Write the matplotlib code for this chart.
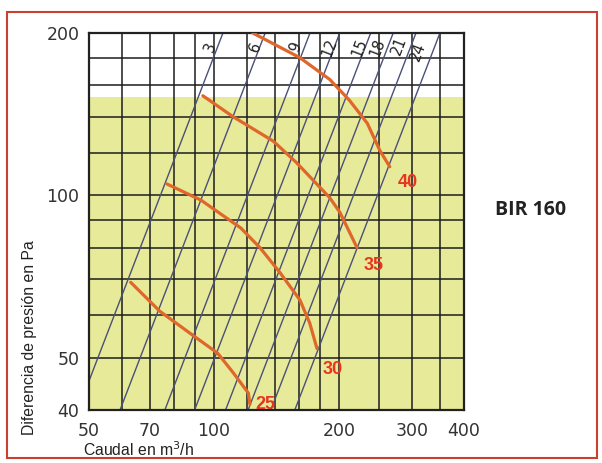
import matplotlib.pyplot as plt
import numpy as np
from matplotlib.patches import Rectangle
from matplotlib.ticker import NullLocator

dbl_width = 602.0
dbl_height = 463.0
dbl_dpi = 100.0

# axis ticks and grid (flow in m3/h, pressure in Pa)
x_ticks = [50, 70, 100, 200, 300, 400]
y_ticks = [40, 50, 100, 200]
x_grid = [60, 70, 80, 90, 100, 120, 140, 160, 180, 200, 250, 300, 350]
y_grid = [50, 60, 70, 80, 90, 100, 120, 140, 160, 180]

# system lines: p = 100 * (q / q100)^2
line_names = ['3', '6', '9', '12', '15', '18', '21', '24']
line_q100 = [74.3, 93.9, 120.4, 142.0, 168.6, 191.0, 216.7, 247.5]
line_lab_dx = [-5, -3, -6, -3, -4, -7, -8, -12]
line_lab_dy = [0, 0, 0, 0, 0, 0, 1, -3]

# fan curves
curve_names = ['40', '35', '30', '25']
q40 = [124, 161, 190, 212, 234, 251, 265]
p40 = [200, 180, 164, 150, 136, 121, 113]
q35 = [94, 111, 139, 158, 190, 201, 221]
p35 = [153, 140, 126, 115, 99, 93, 80]
q30 = [77, 93, 116, 129, 144, 161, 170, 177]
p30 = [105, 98, 87, 80, 72, 64, 58, 52]
q25 = [63, 74, 89, 102, 111, 121, 122]
p25 = [69, 61, 55, 51, 47, 43, 41]

yellow_top = 152

col_yellow = '#e7ea99'
col_grid = '#1c1c1c'
col_line = '#4a5078'
col_curve = '#e0672b'
col_label = '#e8351f'

fig = plt.figure(figsize=(dbl_width / dbl_dpi, dbl_height / dbl_dpi), dpi=dbl_dpi)
ax = fig.add_axes([89 / 602, 1 - 410 / 463, 375 / 602, 377 / 463])

ax.set_xscale('log')
ax.set_yscale('log')
ax.set_xlim(50, 400)
ax.set_ylim(40, 200)

ax.axhspan(40, yellow_top, color=col_yellow, lw=0, zorder=0)

for xv in x_grid:
    ax.axvline(xv, color=col_grid, lw=1.1, zorder=1)
for yv in y_grid:
    ax.axhline(yv, color=col_grid, lw=1.1, zorder=1)

# system lines with their labels near the top
q_all = np.geomspace(30, 400, 200)
for name, q100, dx, dy in zip(line_names, line_q100, line_lab_dx, line_lab_dy):
    ax.plot(q_all, 100 * (q_all / q100) ** 2, color=col_line, lw=1.0, zorder=2)
    p_lab = 188
    q_lab = q100 * np.sqrt(p_lab / 100)
    ax.annotate(name, (q_lab, p_lab), xytext=(dx, dy), textcoords='offset points',
                rotation=69, ha='center', va='center', fontsize=10.5,
                family='DejaVu Sans', color='#222222', zorder=3)

curves = [(q40, p40), (q35, p35), (q30, p30), (q25, p25)]
lab_offsets = [(13, -11), (12, -13), (11, -15), (11, 0)]
for name, (qc, pc), off in zip(curve_names, curves, lab_offsets):
    ax.plot(qc, pc, color=col_curve, lw=2.3, zorder=4,
            solid_capstyle='round', solid_joinstyle='round')
    ax.annotate(name, (qc[-1], pc[-1]), xytext=off, textcoords='offset points',
                ha='center', va='center', fontsize=13, fontweight='bold',
                family='Liberation Sans', color=col_label, zorder=5)

ax.xaxis.set_minor_locator(NullLocator())
ax.yaxis.set_minor_locator(NullLocator())
ax.set_xticks(x_ticks, [str(v) for v in x_ticks])
ax.set_yticks(y_ticks, [str(v) for v in y_ticks])
ax.tick_params(length=0, labelsize=12.5, labelcolor='#333333')
ax.tick_params(axis='x', pad=9)
ax.tick_params(axis='y', pad=7)

for sp in ax.spines.values():
    sp.set_color('#222222')
    sp.set_linewidth(1.6)

fig.text(30 / 602, 1 - 338 / 463, 'Diferencia de presión en Pa', rotation=90,
         ha='center', va='center', fontsize=11.3, family='Liberation Sans', color='#222222')
fig.text(83 / 602, 1 - 450 / 463, 'Caudal en m$^3$/h', ha='left', va='center',
         fontsize=11.3, family='Liberation Sans', color='#222222')
fig.text(495 / 602, 1 - 210 / 463, 'BIR 160', ha='left', va='center',
         fontsize=14, fontweight='bold', family='Open Sans', color='#222222')

fig.patches.append(Rectangle((7 / 602, 5 / 463), 590 / 602, 446 / 463,
                             transform=fig.transFigure, fill=False,
                             edgecolor='#c8412f', lw=1.5))

fig.savefig('out.png', dpi=dbl_dpi)
